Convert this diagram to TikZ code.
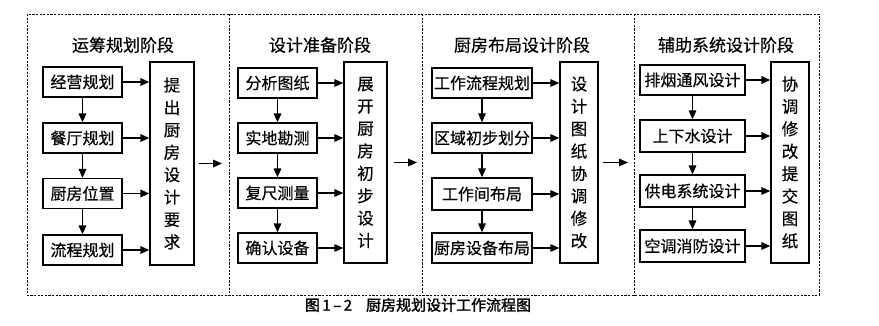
\documentclass[tikz,border=0pt]{standalone}
\usepackage{fontspec}
\newfontfamily\cjk[FakeBold=0.4]{Noto Sans CJK SC}
\newfontfamily\cjkb[FakeBold=1.6]{Noto Sans CJK SC}
\usetikzlibrary{arrows.meta}
\begin{document}
\begin{tikzpicture}[x=1pt,y=-1pt,
  box/.style={draw, line width=1.2pt, inner sep=0pt, font=\cjk\fontsize{16}{16}\selectfont, minimum height=30pt},
  tall/.style={draw, line width=1.2pt, inner sep=0pt, align=center, font=\cjk\fontsize{16.5}{22.4}\selectfont},
  arr/.style={line width=1.6pt, -{Triangle[length=9pt,width=7.5pt]}},
  ttl/.style={font=\cjk\fontsize{17}{17}\selectfont},
  frm/.style={line width=0.9pt, dash pattern=on 2.2pt off 1.4pt}]
\useasboundingbox (0,0) rectangle (879,326);
% frame
\draw[frm] (27,14) rectangle (819,295);
\coordinate (d1t) at (229,14); \coordinate (d1b) at (229,295);
\coordinate (d2t) at (422,14); \coordinate (d2b) at (422,295);
\coordinate (d3t) at (634,14); \coordinate (d3b) at (634,295);
\draw[frm] (d1t) -- (d1b);
\draw[frm] (d2t) -- (d2b);
\draw[frm] (d3t) -- (d3b);
% titles
\node[ttl] (t1) at (123,45) {运筹规划阶段};
\node[ttl] (t2) at (320,45) {设计准备阶段};
\node[ttl] (t3) at (522,45) {厨房布局设计阶段};
\node[ttl] (t4) at (726,45) {辅助系统设计阶段};
% panel 1
\node[box, minimum width=79pt] (a1) at (82.5,82) {经营规划};
\node[box, minimum width=79pt] (a2) at (82.5,138) {餐厅规划};
\node[box, minimum width=79pt] (a3) at (82.5,193.5) {厨房位置};
\node[box, minimum width=79pt] (a4) at (82.5,250) {流程规划};
\node[tall, minimum width=44pt, minimum height=203pt] (A) at (172,163.5) {提\\出\\厨\\房\\设\\计\\要\\求};
% panel 2
\node[box, minimum width=79pt] (b1) at (277.5,83) {分析图纸};
\node[box, minimum width=79pt] (b2) at (277.5,138) {实地勘测};
\node[box, minimum width=79pt] (b3) at (277.5,193) {复尺测量};
\node[box, minimum width=79pt] (b4) at (277.5,248) {确认设备};
\node[tall, minimum width=43pt, minimum height=201pt] (B) at (365.5,162.5) {展\\开\\厨\\房\\初\\步\\设\\计};
% panel 3
\node[box, minimum width=100pt] (c1) at (482,83) {工作流程规划};
\node[box, minimum width=100pt] (c2) at (482,138) {区域初步划分};
\node[box, minimum width=100pt, minimum height=32pt] (c3) at (482,194) {工作间布局};
\node[box, minimum width=100pt] (c4) at (482,248) {厨房设备布局};
\node[tall, minimum width=38pt, minimum height=201pt] (C) at (579,162.5) {设\\计\\图\\纸\\协\\调\\修\\改};
% panel 4
\node[box, minimum width=105pt] (e1) at (692.5,80) {排烟通风设计};
\node[box, minimum width=105pt, minimum height=32pt] (e2) at (692.5,136) {上下水设计};
\node[box, minimum width=105pt, minimum height=32pt] (e3) at (692.5,191) {供电系统设计};
\node[box, minimum width=105pt, minimum height=32pt] (e4) at (692.5,246) {空调消防设计};
\node[tall, minimum width=38pt, minimum height=201pt] (E) at (790,162.5) {协\\调\\修\\改\\提\\交\\图\\纸};
% vertical arrows
\foreach \p in {a,b,c,e}{
  \draw[arr] (\p1.south) -- (\p2.north);
  \draw[arr] (\p2.south) -- (\p3.north);
  \draw[arr] (\p3.south) -- (\p4.north);
}
% horizontal arrows
\foreach \p/\q in {a/A,b/B,c/C,e/E}{
  \foreach \i in {1,2,3,4}{
    \draw[arr] (\p\i.east) -- (\p\i.east -| \q.west);
  }
}
% between panels
\coordinate (p1) at (222,163.5);
\coordinate (p2) at (417,162.5);
\coordinate (p3) at (628,162.5);
\draw[arr] ([xshift=4pt]A.east) -- (A.east -| p1);
\draw[arr] ([xshift=6pt]B.east) -- (B.east -| p2);
\draw[arr] ([xshift=4pt]C.east) -- (C.east -| p3);
% caption
\node[font=\cjkb\fontsize{15}{15}\selectfont] (cap) at (418,305) {图\,1\,–\,2\hspace{14pt}厨房规划设计工作流程图};
\end{tikzpicture}
\end{document}
